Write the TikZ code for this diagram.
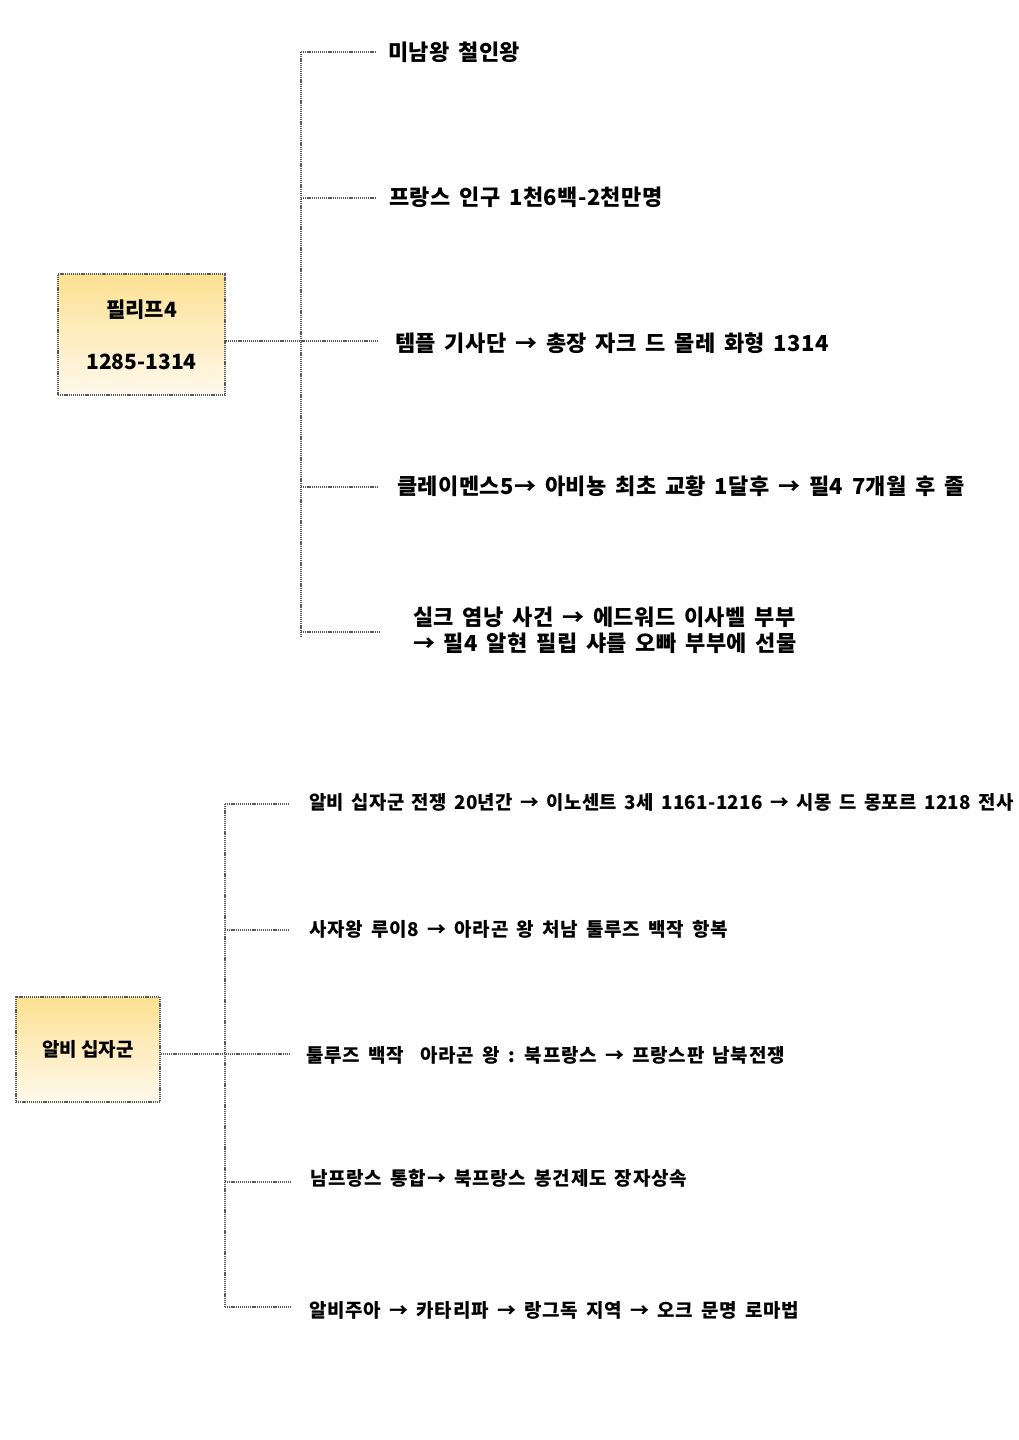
\documentclass[tikz,border=0pt]{standalone}
\usepackage{fontspec}
\setmainfont{Noto Sans CJK KR}[WordSpace=1.6, LetterSpace=2]
\newfontfamily\krbox{Noto Sans CJK KR}
\newfontfamily\krwide{Noto Sans CJK KR}[WordSpace=1.6, LetterSpace=4]
\definecolor{boxtop}{RGB}{252,224,146}
\definecolor{boxbot}{RGB}{255,249,236}
\definecolor{dotgray}{RGB}{90,90,90}
\tikzset{
  dotline/.style={draw=dotgray, line width=1.5pt, dash pattern=on 1.2pt off 0.9pt},
  topbox/.style={shade, top color=boxtop, bottom color=boxbot, draw=dotgray, line width=1.5pt,
    dash pattern=on 1.2pt off 0.9pt, align=center, inner sep=0pt},
  toptext/.style={anchor=west, inner sep=0pt, font=\bfseries\fontsize{22}{26}\selectfont, align=left},
  bottext/.style={anchor=west, inner sep=0pt, font=\krwide\bfseries\fontsize{19}{24}\selectfont},
}
\begin{document}
\begin{tikzpicture}[x=1pt,y=-1pt]
\useasboundingbox[fill=white] (0,0) rectangle (1019,1440);
% ---------- top section ----------
\node[topbox, minimum width=167pt, minimum height=121pt, font=\krbox\bfseries\fontsize{21}{52}\selectfont]
  (b1) at (141.5,334.5) {필리프4\\1285-1314};
\node[toptext] (a1) at (388,52) {미남왕 철인왕};
\node[toptext] (a2) at (389,197) {프랑스 인구 1천6백-2천만명};
\node[toptext] (a3) at (395,343) {템플 기사단 → 총장 자크 드 몰레 화형 1314};
\node[toptext] (a4) at (397,486) {클레이멘스5→ 아비뇽 최초 교황 1달후 → 필4 7개월 후 졸};
\node[toptext] (a5) at (413,630) {실크 염낭 사건 → 에드워드 이사벨 부부\\→ 필4 알현 필립 샤를 오빠 부부에 선물};
\coordinate (t1a) at (301,52);
\coordinate (t1b) at (301,198);
\coordinate (t1c) at (301,341);
\coordinate (t1d) at (301,487);
\coordinate (t1e) at (301,636);
\draw[dotline] (t1a) -- (t1e);
\draw[dotline] (t1a) -- ([xshift=-13pt]a1.west |- t1a);
\draw[dotline] (t1b) -- ([xshift=-14pt]a2.west |- t1b);
\draw[dotline] (b1.east |- t1c) -- ([xshift=-17pt]a3.west |- t1c);
\draw[dotline] (t1d) -- ([xshift=-19pt]a4.west |- t1d);
\draw[dotline] (301,632) -- ([xshift=-33pt]a5.west |- 0,632);
% ---------- bottom section ----------
\node[topbox, minimum width=144pt, minimum height=105pt, font=\krbox\bfseries\fontsize{19}{24}\selectfont]
  (b2) at (88,1049.5) {알비 십자군};
\node[anchor=west, inner sep=0pt, font=\bfseries\fontsize{19}{24}\selectfont] (c1) at (309,802)
  {\scalebox{0.99}[1]{알비 십자군 전쟁 20년간 → 이노센트 3세 1161-1216 → 시몽 드 몽포르 1218 전사}};
\node[bottext] (c2) at (309,929) {사자왕 루이8 → 아라곤 왕 처남 툴루즈 백작 항복};
\node[bottext] (c3) at (306,1055) {툴루즈 백작 \ 아라곤 왕 : 북프랑스 → 프랑스판 남북전쟁};
\node[bottext] (c4) at (310,1178) {남프랑스 통합→ 북프랑스 봉건제도 장자상속};
\node[bottext] (c5) at (309,1310) {알비주아 → 카타리파 → 랑그독 지역 → 오크 문명 로마법};
\coordinate (t2a) at (225,804);
\coordinate (t2b) at (225,930);
\coordinate (t2c) at (225,1054);
\coordinate (t2d) at (225,1182);
\coordinate (t2e) at (225,1307);
\draw[dotline] (t2a) -- (t2e);
\draw[dotline] (t2a) -- ([xshift=-19pt]c1.west |- t2a);
\draw[dotline] (t2b) -- ([xshift=-19pt]c2.west |- t2b);
\draw[dotline] (b2.east |- t2c) -- ([xshift=-16pt]c3.west |- t2c);
\draw[dotline] (t2d) -- ([xshift=-18pt]c4.west |- t2d);
\draw[dotline] (t2e) -- ([xshift=-17pt]c5.west |- t2e);
\end{tikzpicture}
\end{document}
